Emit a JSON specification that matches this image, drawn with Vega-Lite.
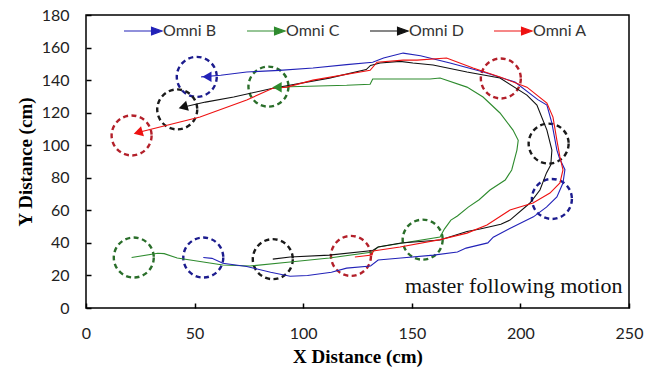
{
  "$schema": "https://vega.github.io/schema/vega-lite/v6.json",
  "width": 543,
  "height": 293,
  "autosize": {"type": "none"},
  "padding": {"left": 86, "top": 15, "right": 23, "bottom": 63},
  "background": "white",
  "config": {
    "view": {"stroke": "#000", "strokeWidth": 1.5}
  },
  "datasets": {
    "paths": [
      {"s": "Omni C", "i": 0, "x": 21, "y": 31},
      {"s": "Omni C", "i": 1, "x": 33, "y": 33.6},
      {"s": "Omni C", "i": 2, "x": 36, "y": 33.4},
      {"s": "Omni C", "i": 3, "x": 42, "y": 30.7},
      {"s": "Omni C", "i": 4, "x": 63, "y": 26.4},
      {"s": "Omni C", "i": 5, "x": 75.5, "y": 25.8},
      {"s": "Omni C", "i": 6, "x": 94, "y": 28.3},
      {"s": "Omni C", "i": 7, "x": 112, "y": 30.7},
      {"s": "Omni C", "i": 8, "x": 132, "y": 34.4},
      {"s": "Omni C", "i": 9, "x": 134.5, "y": 37.5},
      {"s": "Omni C", "i": 10, "x": 163, "y": 43.6},
      {"s": "Omni C", "i": 11, "x": 165, "y": 48.5},
      {"s": "Omni C", "i": 12, "x": 168, "y": 54},
      {"s": "Omni C", "i": 13, "x": 171, "y": 56.5},
      {"s": "Omni C", "i": 14, "x": 176, "y": 62},
      {"s": "Omni C", "i": 15, "x": 181, "y": 66.5},
      {"s": "Omni C", "i": 16, "x": 186, "y": 72.5},
      {"s": "Omni C", "i": 17, "x": 193, "y": 78.6},
      {"s": "Omni C", "i": 18, "x": 196, "y": 84.8},
      {"s": "Omni C", "i": 19, "x": 198.4, "y": 97},
      {"s": "Omni C", "i": 20, "x": 199, "y": 103},
      {"s": "Omni C", "i": 21, "x": 196.6, "y": 109.3},
      {"s": "Omni C", "i": 22, "x": 190.6, "y": 119.8},
      {"s": "Omni C", "i": 23, "x": 182.8, "y": 129.6},
      {"s": "Omni C", "i": 24, "x": 175.4, "y": 135.7},
      {"s": "Omni C", "i": 25, "x": 163, "y": 141.3},
      {"s": "Omni C", "i": 26, "x": 158.4, "y": 140.7},
      {"s": "Omni C", "i": 27, "x": 132, "y": 140.7},
      {"s": "Omni C", "i": 28, "x": 130.8, "y": 137.5},
      {"s": "Omni C", "i": 29, "x": 120, "y": 136.8},
      {"s": "Omni C", "i": 30, "x": 94, "y": 135.9},
      {"s": "Omni C", "i": 31, "x": 86, "y": 135.3},
      {"s": "Omni B", "i": 0, "x": 54, "y": 31},
      {"s": "Omni B", "i": 1, "x": 58, "y": 30.5},
      {"s": "Omni B", "i": 2, "x": 63, "y": 27.5},
      {"s": "Omni B", "i": 3, "x": 74, "y": 25.5},
      {"s": "Omni B", "i": 4, "x": 85, "y": 22},
      {"s": "Omni B", "i": 5, "x": 94, "y": 19.5},
      {"s": "Omni B", "i": 6, "x": 102, "y": 20},
      {"s": "Omni B", "i": 7, "x": 113, "y": 22},
      {"s": "Omni B", "i": 8, "x": 120, "y": 24.5},
      {"s": "Omni B", "i": 9, "x": 131, "y": 25.8},
      {"s": "Omni B", "i": 10, "x": 134.5, "y": 29.5},
      {"s": "Omni B", "i": 11, "x": 145, "y": 30.7},
      {"s": "Omni B", "i": 12, "x": 160, "y": 32.5},
      {"s": "Omni B", "i": 13, "x": 171, "y": 34.4},
      {"s": "Omni B", "i": 14, "x": 175, "y": 36.8},
      {"s": "Omni B", "i": 15, "x": 185, "y": 40},
      {"s": "Omni B", "i": 16, "x": 187.5, "y": 43.5},
      {"s": "Omni B", "i": 17, "x": 196.5, "y": 49.8},
      {"s": "Omni B", "i": 18, "x": 206, "y": 56},
      {"s": "Omni B", "i": 19, "x": 212, "y": 62},
      {"s": "Omni B", "i": 20, "x": 216.8, "y": 68.2},
      {"s": "Omni B", "i": 21, "x": 219.6, "y": 76.8},
      {"s": "Omni B", "i": 22, "x": 220.5, "y": 85},
      {"s": "Omni B", "i": 23, "x": 218, "y": 92},
      {"s": "Omni B", "i": 24, "x": 216.8, "y": 97},
      {"s": "Omni B", "i": 25, "x": 214.5, "y": 113.6},
      {"s": "Omni B", "i": 26, "x": 212.2, "y": 124.7},
      {"s": "Omni B", "i": 27, "x": 208, "y": 128},
      {"s": "Omni B", "i": 28, "x": 197.5, "y": 138.8},
      {"s": "Omni B", "i": 29, "x": 183, "y": 145},
      {"s": "Omni B", "i": 30, "x": 167.6, "y": 150.5},
      {"s": "Omni B", "i": 31, "x": 154, "y": 155},
      {"s": "Omni B", "i": 32, "x": 146, "y": 156.6},
      {"s": "Omni B", "i": 33, "x": 137, "y": 153.6},
      {"s": "Omni B", "i": 34, "x": 132, "y": 151},
      {"s": "Omni B", "i": 35, "x": 120, "y": 149.5},
      {"s": "Omni B", "i": 36, "x": 104.5, "y": 147.4},
      {"s": "Omni B", "i": 37, "x": 89, "y": 146},
      {"s": "Omni B", "i": 38, "x": 74, "y": 145},
      {"s": "Omni B", "i": 39, "x": 62, "y": 143},
      {"s": "Omni B", "i": 40, "x": 53, "y": 142},
      {"s": "Omni D", "i": 0, "x": 86, "y": 30},
      {"s": "Omni D", "i": 1, "x": 94, "y": 31.3},
      {"s": "Omni D", "i": 2, "x": 112, "y": 32.5},
      {"s": "Omni D", "i": 3, "x": 132, "y": 35.3},
      {"s": "Omni D", "i": 4, "x": 134.5, "y": 37.5},
      {"s": "Omni D", "i": 5, "x": 145, "y": 39.9},
      {"s": "Omni D", "i": 6, "x": 163, "y": 41.8},
      {"s": "Omni D", "i": 7, "x": 175.4, "y": 47},
      {"s": "Omni D", "i": 8, "x": 181.4, "y": 48.5},
      {"s": "Omni D", "i": 9, "x": 191, "y": 51.5},
      {"s": "Omni D", "i": 10, "x": 195.2, "y": 54},
      {"s": "Omni D", "i": 11, "x": 204.4, "y": 64.5},
      {"s": "Omni D", "i": 12, "x": 209, "y": 72.5},
      {"s": "Omni D", "i": 13, "x": 212, "y": 83},
      {"s": "Omni D", "i": 14, "x": 214, "y": 88},
      {"s": "Omni D", "i": 15, "x": 214.5, "y": 97},
      {"s": "Omni D", "i": 16, "x": 212.2, "y": 109.3},
      {"s": "Omni D", "i": 17, "x": 207.6, "y": 124.7},
      {"s": "Omni D", "i": 18, "x": 203, "y": 130.8},
      {"s": "Omni D", "i": 19, "x": 190.6, "y": 141.3},
      {"s": "Omni D", "i": 20, "x": 175.4, "y": 145},
      {"s": "Omni D", "i": 21, "x": 159.8, "y": 149.3},
      {"s": "Omni D", "i": 22, "x": 150.5, "y": 150.5},
      {"s": "Omni D", "i": 23, "x": 144.6, "y": 151.5},
      {"s": "Omni D", "i": 24, "x": 135.4, "y": 150.5},
      {"s": "Omni D", "i": 25, "x": 131, "y": 149},
      {"s": "Omni D", "i": 26, "x": 129, "y": 146.5},
      {"s": "Omni D", "i": 27, "x": 112, "y": 141.2},
      {"s": "Omni D", "i": 28, "x": 86, "y": 135},
      {"s": "Omni D", "i": 29, "x": 68, "y": 129.6},
      {"s": "Omni D", "i": 30, "x": 55, "y": 126.5},
      {"s": "Omni D", "i": 31, "x": 43.5, "y": 123},
      {"s": "Omni A", "i": 0, "x": 123.8, "y": 31.3},
      {"s": "Omni A", "i": 1, "x": 131.7, "y": 32.5},
      {"s": "Omni A", "i": 2, "x": 132.2, "y": 35},
      {"s": "Omni A", "i": 3, "x": 144.6, "y": 37.5},
      {"s": "Omni A", "i": 4, "x": 163, "y": 42},
      {"s": "Omni A", "i": 5, "x": 175.4, "y": 46},
      {"s": "Omni A", "i": 6, "x": 184.6, "y": 51},
      {"s": "Omni A", "i": 7, "x": 195.2, "y": 60.2},
      {"s": "Omni A", "i": 8, "x": 205.8, "y": 64.5},
      {"s": "Omni A", "i": 9, "x": 213.6, "y": 70.6},
      {"s": "Omni A", "i": 10, "x": 218.2, "y": 76.8},
      {"s": "Omni A", "i": 11, "x": 219.6, "y": 84.8},
      {"s": "Omni A", "i": 12, "x": 218.2, "y": 92.8},
      {"s": "Omni A", "i": 13, "x": 216.8, "y": 103},
      {"s": "Omni A", "i": 14, "x": 215, "y": 117.3},
      {"s": "Omni A", "i": 15, "x": 212.2, "y": 125.9},
      {"s": "Omni A", "i": 16, "x": 203, "y": 135.7},
      {"s": "Omni A", "i": 17, "x": 190.6, "y": 141.9},
      {"s": "Omni A", "i": 18, "x": 178.2, "y": 147.4},
      {"s": "Omni A", "i": 19, "x": 166, "y": 153.6},
      {"s": "Omni A", "i": 20, "x": 152.4, "y": 152.3},
      {"s": "Omni A", "i": 21, "x": 146, "y": 152.3},
      {"s": "Omni A", "i": 22, "x": 134, "y": 151},
      {"s": "Omni A", "i": 23, "x": 130.8, "y": 146},
      {"s": "Omni A", "i": 24, "x": 104.5, "y": 140},
      {"s": "Omni A", "i": 25, "x": 92.5, "y": 135.7},
      {"s": "Omni A", "i": 26, "x": 86, "y": 135},
      {"s": "Omni A", "i": 27, "x": 74, "y": 127.8},
      {"s": "Omni A", "i": 28, "x": 52.5, "y": 117.3},
      {"s": "Omni A", "i": 29, "x": 23, "y": 107.5}
    ],
    "circles": [
      {"s": "Omni B", "x": 51, "y": 142},
      {"s": "Omni C", "x": 84, "y": 136},
      {"s": "Omni D", "x": 42, "y": 122},
      {"s": "Omni A", "x": 21, "y": 106},
      {"s": "Omni A", "x": 191, "y": 141},
      {"s": "Omni D", "x": 213, "y": 101},
      {"s": "Omni B", "x": 214.5, "y": 67},
      {"s": "Omni C", "x": 155, "y": 42},
      {"s": "Omni A", "x": 122, "y": 32},
      {"s": "Omni C", "x": 22, "y": 31},
      {"s": "Omni B", "x": 54, "y": 31},
      {"s": "Omni D", "x": 86, "y": 30}
    ],
    "arrows": [
      {"s": "Omni B", "x": 55.7, "y": 142, "heading": 0},
      {"s": "Omni C", "x": 88, "y": 135.6, "heading": 0},
      {"s": "Omni D", "x": 44.7, "y": 123.5, "heading": 345},
      {"s": "Omni A", "x": 24, "y": 107.8, "heading": 344}
    ],
    "note": [{"label": "master following motion", "x": 247, "y": 9.2}]
  },
  "encoding": {
    "x": {"field": "x", "type": "quantitative", "scale": {"domain": [0, 250], "nice": false},
      "axis": {"values": [0, 50, 100, 150, 200, 250], "title": "X Distance (cm)", "grid": false, "domain": false, "labelFlush": false, "labelOverlap": false,
        "labelFont": "Lato", "labelFontSize": 16, "labelColor": "#222", "tickColor": "#000", "tickWidth": 1.5, "tickSize": -5, "labelPadding": 22,
        "titleFont": "Liberation Serif", "titleFontWeight": "bold", "titleFontSize": 19, "titleColor": "#000", "titlePadding": 6}},
    "y": {"field": "y", "type": "quantitative", "scale": {"domain": [0, 180], "nice": false},
      "axis": {"values": [0, 20, 40, 60, 80, 100, 120, 140, 160, 180], "title": "Y Distance (cm)", "grid": false, "domain": false, "labelFlush": false, "labelOverlap": false,
        "labelFont": "Lato", "labelFontSize": 16, "labelColor": "#222", "tickColor": "#000", "tickWidth": 1.5, "tickSize": -5, "labelPadding": 22,
        "titleFont": "Liberation Serif", "titleFontWeight": "bold", "titleFontSize": 19, "titleColor": "#000", "titlePadding": 6}}
  },
  "layer": [
    {
      "data": {"name": "circles"},
      "mark": {"type": "point", "shape": "circle", "filled": false, "size": 1600, "strokeWidth": 2.4, "strokeDash": [5, 3.5], "opacity": 1},
      "encoding": {
        "stroke": {"field": "s", "type": "nominal", "scale": {"domain": ["Omni A", "Omni B", "Omni C", "Omni D"], "range": ["#b3202a", "#1c1c8e", "#2a6e2a", "#1a1a1a"]}, "legend": null}
      }
    },
    {
      "data": {"name": "paths"},
      "mark": {"type": "line", "strokeWidth": 1.1},
      "encoding": {
        "order": {"field": "i"},
        "color": {
          "field": "s", "type": "nominal",
          "scale": {"domain": ["Omni B", "Omni C", "Omni D", "Omni A"], "range": ["#2222b8", "#2e8b2e", "#111111", "#ee1111"]},
          "legend": {
            "orient": "none", "legendX": 37, "legendY": -4, "direction": "horizontal", "title": null,
            "symbolType": "M-1,0L0.5,0M0.45,-0.2L1,0L0.45,0.2Z",
            "symbolSize": 1444, "symbolStrokeWidth": 1.2,
            "labelFont": "Lato", "labelFontSize": 16, "labelColor": "#333", "labelOffset": 0, "columnPadding": 27
          }
        }
      }
    },
    {
      "data": {"name": "arrows"},
      "mark": {"type": "point", "shape": "triangle-left", "filled": true, "size": 110, "opacity": 1},
      "encoding": {
        "angle": {"field": "heading", "type": "quantitative", "scale": null},
        "color": {"field": "s", "type": "nominal"}
      }
    },
    {
      "data": {"name": "note"},
      "mark": {"type": "text", "font": "Liberation Serif", "fontSize": 22, "align": "right", "baseline": "alphabetic", "color": "#111"},
      "encoding": {
        "text": {"field": "label"}
      }
    }
  ]
}
